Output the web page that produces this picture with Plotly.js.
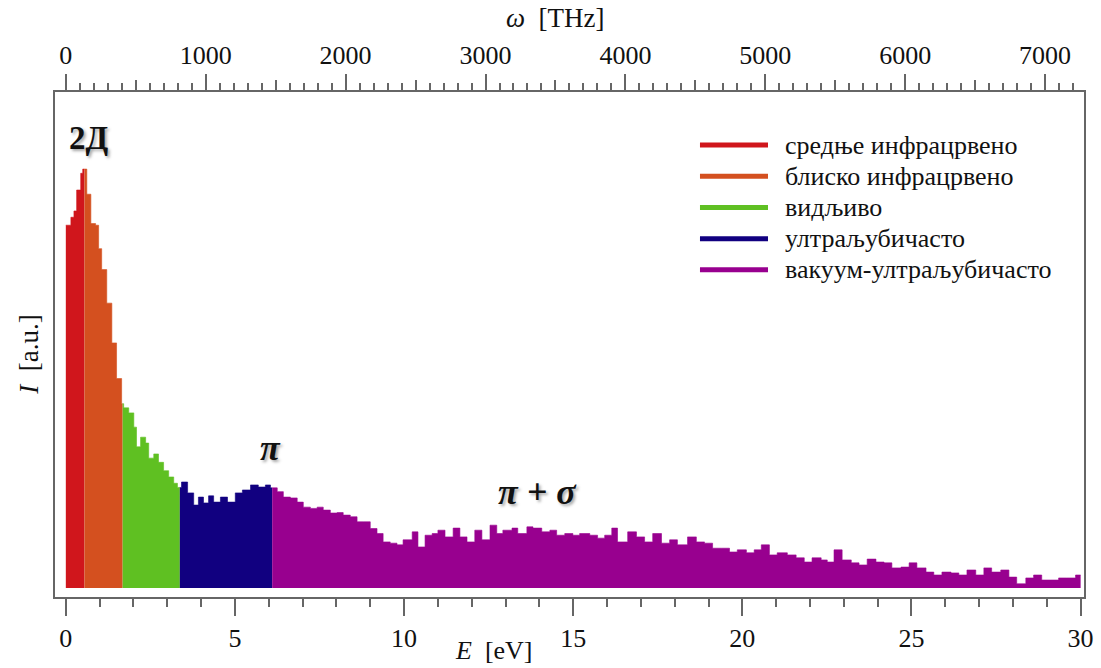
<!DOCTYPE html>
<html>
<head>
<meta charset="utf-8">
<script src="https://cdn.plot.ly/plotly-3.0.1.min.js"></script>
<style>
  html, body { margin: 0; padding: 0; background: #fff; }
  #chart { width: 1101px; height: 668px; }
</style>
</head>
<body>
<div id="chart"></div>
<script>
// Photon energy samples (eV) and measured intensity (a.u.)
const energy = [
  0.00, 0.15, 0.24, 0.32, 0.44, 0.50, 0.62, 0.74, 0.88, 0.97,
  1.06, 1.21, 1.36, 1.50, 1.65, 1.71, 1.86, 2.01, 2.09, 2.21,
  2.36, 2.45, 2.60, 2.74, 2.89, 3.04, 3.19, 3.30, 3.42, 3.60,
  3.78, 3.92, 4.07, 4.22, 4.37, 4.57, 4.78, 5.01, 5.22, 5.46,
  5.69, 5.90, 6.05, 6.25, 6.43, 6.64, 6.84, 7.02, 7.23, 7.43,
  7.61, 7.82, 8.02, 8.20, 8.41, 8.61, 8.79, 9.00, 9.20, 9.38,
  9.59, 9.79, 9.97, 10.24, 10.41, 10.62, 10.83, 11.00, 11.21, 11.45,
  11.65, 11.86, 12.09, 12.30, 12.54, 12.74, 12.92, 13.19, 13.36, 13.63,
  13.81, 14.07, 14.31, 14.51, 14.75, 14.99, 15.19, 15.49, 15.72, 15.93,
  16.14, 16.31, 16.61, 16.87, 17.11, 17.35, 17.61, 17.85, 18.08, 18.38,
  18.64, 18.88, 19.12, 19.38, 19.62, 19.85, 20.12, 20.35, 20.56, 20.80,
  21.03, 21.33, 21.59, 21.83, 22.06, 22.33, 22.51, 22.71, 22.95, 23.22,
  23.45, 23.69, 23.95, 24.19, 24.42, 24.69, 24.93, 25.16, 25.43, 25.66,
  25.90, 26.17, 26.40, 26.64, 26.90, 27.14, 27.37, 27.64, 27.88, 28.11,
  28.38, 28.61, 28.85, 29.12, 29.35, 29.59, 29.85
];
const intensity = [
  86.6, 88.5, 90.0, 95.0, 99.0, 100.0, 94.0, 87.0, 86.6, 81.0,
  76.0, 68.0, 58.5, 50.0, 44.0, 43.0, 41.8, 38.4, 33.7, 36.0,
  34.6, 31.0, 32.0, 30.0, 28.0, 26.5, 25.0, 24.0, 25.3, 22.7,
  19.8, 21.7, 20.3, 22.0, 20.5, 21.7, 20.5, 22.7, 23.4, 24.6,
  24.1, 24.6, 23.9, 23.0, 21.7, 21.5, 20.5, 19.3, 19.0, 19.3,
  18.6, 17.9, 18.0, 17.4, 17.0, 15.8, 15.8, 14.2, 13.0, 11.0,
  10.7, 10.3, 11.5, 13.4, 9.8, 12.6, 13.0, 13.8, 12.2, 14.3,
  12.2, 11.0, 13.8, 11.5, 15.0, 13.0, 13.8, 14.3, 13.0, 14.6,
  14.3, 13.4, 13.8, 12.6, 13.0, 12.6, 13.0, 12.6, 11.9, 12.6,
  14.3, 11.0, 13.4, 12.2, 11.0, 13.0, 10.7, 11.5, 10.3, 12.2,
  11.0, 10.7, 9.5, 9.5, 8.6, 9.1, 8.4, 9.1, 10.3, 7.9,
  8.4, 7.9, 7.2, 6.2, 7.2, 6.7, 6.2, 9.1, 6.7, 6.0,
  5.5, 6.9, 6.2, 6.0, 4.8, 5.0, 6.0, 4.8, 3.8, 3.1,
  3.8, 3.6, 3.1, 4.3, 3.1, 4.8, 3.8, 4.3, 2.6, 1.0,
  2.4, 3.1, 1.9, 1.9, 2.4, 2.4, 3.1
];

// Spectral bands: names, lower/upper energy bounds (eV) and colours
const bandNames  = ['средње инфрацрвено', 'блиско инфрацрвено', 'видљиво', 'ултраљубичасто', 'вакуум-ултраљубичасто'];
const bandStart  = [0.00, 0.55, 1.68, 3.37, 6.10];
const bandEnd    = [0.55, 1.68, 3.37, 6.10, 30.0];
const bandColors = ['#d0161c', '#d4501f', '#5fc022', '#110080', '#98008f'];

// Peak labels
const peakText = ['2Д', 'π', 'π + σ'];
const peakE    = [0.68, 6.05, 13.95];
const peakI    = [107.5, 33.5, 23.0];

const EV_TO_THZ = 241.8;
const eRange = [-0.32, 30.1];
const iRange = [-2.15, 118.4];

// value of the step curve at energy e (last sample at or below e)
function stepValue(e) {
  let v = intensity[0];
  for (let k = 0; k < energy.length; k++) {
    if (energy[k] <= e + 1e-9) v = intensity[k];
  }
  return v;
}

const traces = bandNames.map((name, b) => {
  const xs = [bandStart[b]];
  const ys = [stepValue(bandStart[b])];
  energy.forEach((e, k) => {
    if (e > bandStart[b] + 1e-9 && e < bandEnd[b] - 1e-9) { xs.push(e); ys.push(intensity[k]); }
  });
  xs.push(bandEnd[b]);
  ys.push(ys[ys.length - 1]);
  return {
    type: 'scatter', mode: 'lines', name: name,
    x: xs, y: ys,
    line: { shape: 'hv', width: 0.6, color: bandColors[b] },
    fill: 'tozeroy', fillcolor: bandColors[b],
    showlegend: false, hoverinfo: 'x+y'
  };
});

// dummy traces that carry the two top axes
traces.push({ type: 'scatter', x: [eRange[0] * EV_TO_THZ], y: [0], xaxis: 'x2', mode: 'markers',
  marker: { opacity: 0 }, showlegend: false, hoverinfo: 'skip' });
traces.push({ type: 'scatter', x: [eRange[0] * EV_TO_THZ], y: [0], xaxis: 'x3', mode: 'markers',
  marker: { opacity: 0 }, showlegend: false, hoverinfo: 'skip' });

const serif = "'Liberation Serif', 'Times New Roman', Times, serif";
const axisGrey = '#666';
const ink = '#111';

const annotations = [];
const shapes = [];

// hand-drawn legend in the upper right
const legX0 = 0.6268, legX1 = 0.6929, legTextX = 0.7075, legY0 = 0.895, legStep = 0.0618;
bandNames.forEach((name, b) => {
  const yy = legY0 - b * legStep;
  shapes.push({ type: 'line', xref: 'paper', yref: 'paper', x0: legX0, x1: legX1, y0: yy, y1: yy,
    line: { color: bandColors[b], width: 5 } });
  annotations.push({ xref: 'paper', yref: 'paper', x: legTextX, y: yy, xanchor: 'left', yanchor: 'middle',
    text: name, showarrow: false, font: { family: serif, size: 26, color: ink } });
});

peakText.forEach((t, k) => {
  annotations.push({ x: peakE[k], y: peakI[k], xref: 'x', yref: 'y', text: t, showarrow: false,
    font: { family: serif, size: k === 0 ? 33 : 36, color: ink, weight: 'bold', style: k === 0 ? 'normal' : 'italic',
            shadow: '2px 2px 3px rgba(0,0,0,0.35)' } });
});

// axis titles
annotations.push({ xref: 'paper', yref: 'paper', x: 0.427, y: -0.106, yanchor: 'middle', showarrow: false,
  text: '<i>E</i>  [eV]', font: { family: serif, size: 26, color: ink } });
annotations.push({ xref: 'paper', yref: 'paper', x: 0.486, y: 1.147, yanchor: 'middle', showarrow: false,
  text: '<i>ω</i>  [THz]', font: { family: serif, size: 27, color: ink } });
annotations.push({ xref: 'paper', yref: 'paper', x: -0.026, y: 0.48, xanchor: 'center', showarrow: false,
  textangle: -90, text: '<i>I</i>  [a.u.]', font: { family: serif, size: 27, color: ink } });

const layout = {
  width: 1101, height: 668,
  margin: { l: 55, r: 17, t: 92, b: 71 },
  paper_bgcolor: '#fff', plot_bgcolor: '#fff',
  font: { family: serif, size: 26, color: ink },
  showlegend: false,
  xaxis: {
    range: eRange, showgrid: false, zeroline: false,
    showline: true, mirror: true, linecolor: axisGrey, linewidth: 2,
    ticks: 'outside', tick0: 0, dtick: 5, ticklen: 17, tickwidth: 2, tickcolor: axisGrey,
    minor: { ticks: 'outside', dtick: 1, ticklen: 8, tickwidth: 2, tickcolor: axisGrey },
    tickfont: { family: serif, size: 26, color: ink }, ticklabelstandoff: 0
  },
  xaxis2: {
    overlaying: 'x', side: 'top', anchor: 'y',
    range: [eRange[0] * EV_TO_THZ, eRange[1] * EV_TO_THZ], showgrid: false, zeroline: false,
    ticks: 'outside', tick0: 0, dtick: 1000, ticklen: 17, tickwidth: 2, tickcolor: axisGrey,
    minor: { ticks: 'outside', dtick: 100, ticklen: 8, tickwidth: 2, tickcolor: axisGrey },
    tickfont: { family: serif, size: 26, color: ink }, ticklabelstandoff: 0
  },
  xaxis3: {
    overlaying: 'x', side: 'top', anchor: 'y',
    range: [eRange[0] * EV_TO_THZ, eRange[1] * EV_TO_THZ], showgrid: false, zeroline: false,
    ticks: 'outside', tick0: 500, dtick: 1000, ticklen: 11, tickwidth: 2, tickcolor: axisGrey,
    showticklabels: false
  },
  yaxis: {
    range: iRange, showgrid: false, zeroline: false,
    showline: true, mirror: true, linecolor: axisGrey, linewidth: 2,
    ticks: '', showticklabels: false
  },
  shapes: shapes,
  annotations: annotations
};

Plotly.newPlot('chart', traces, layout, { displayModeBar: false, staticPlot: true });
</script>
</body>
</html>
